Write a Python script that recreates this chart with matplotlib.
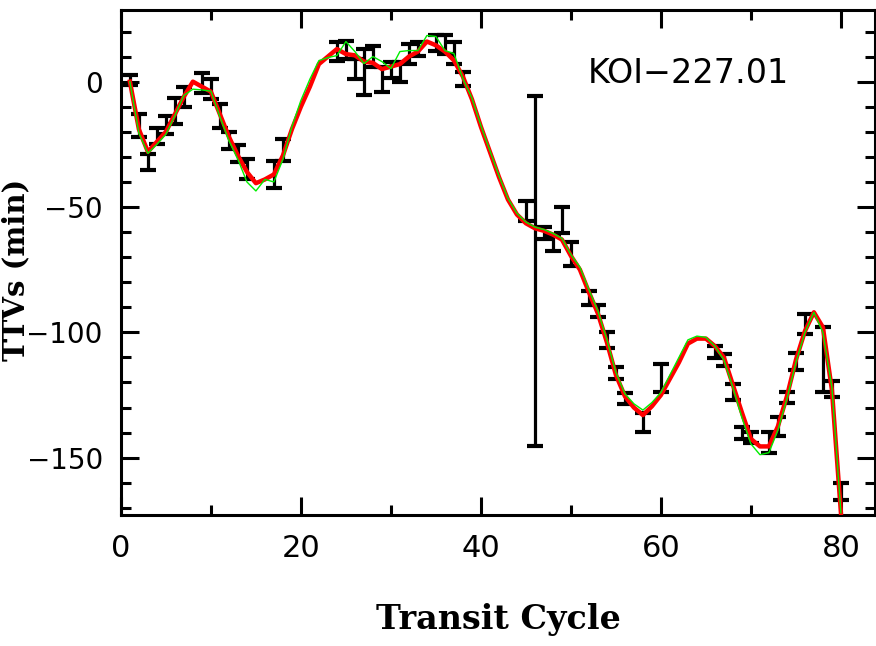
import numpy as np
from matplotlib import pyplot as plt
from matplotlib.ticker import MultipleLocator

# Observed transit timing variations (cycle, TTV in min, 1-sigma error)
obs_cycle = [1, 2, 3, 4, 5, 6, 7, 9, 10, 11, 12, 13, 14, 17, 18,
             24, 25, 26, 27, 28, 29, 30, 31, 32, 33, 35, 36, 37, 38,
             45, 46, 47, 48, 49, 50, 52, 53, 54, 55, 56, 58, 60,
             66, 67, 68, 69, 70, 72, 73, 74, 75, 76, 78, 79, 80]
obs_ttv = [0.5, -17.5, -32, -21.6, -17.2, -11.6, -6, -0.4, -2.8, -13.6, -23.4, -28.6, -34.8, -37, -27.3,
           12.2, 12.8, 5.2, 4, 10, 1, 4.8, 4, 11, 13.2, 15.6, 15, 11.6, 1.2,
           -51.6, -75.4, -60.4, -64.6, -55.2, -68.8, -86.4, -91.6, -103.2, -116.4, -126.2, -135.8, -118.2,
           -108, -111.2, -123.8, -140, -141.8, -143.8, -137.4, -125.8, -111.8, -96.8, -110.8, -122.6, -163.5]
obs_err = [2, 4.6, 3.2, 3.2, 3.6, 5.2, 4, 4, 4, 4.8, 3.4, 3.4, 4, 5.4, 4.3,
           3.8, 3.6, 4, 9.2, 4.2, 5, 3.2, 4, 4, 2.8, 3.2, 3.8, 4.4, 2.8,
           4, 69.8, 2.4, 3, 5.2, 4.8, 2.8, 2.4, 3.2, 2.4, 2.2, 3.8, 5.4,
           2.4, 2.4, 3, 2.4, 2.2, 4.2, 3.8, 2.2, 3.4, 4, 12.8, 3, 3.4]

# Model curves, one value per cycle 1..80
model_cycle = list(range(1, 81))
model_red = [0, -19, -28, -24, -20, -13, -6, 0, -2, -4,
             -13, -22, -29.5, -36, -40.5, -39, -37, -29.5, -19, -10,
             -2, 7, 10, 13, 11, 10.5, 8, 7.5, 5, 6,
             7, 10, 12, 16, 14.5, 12, 8.5, 2, -7, -18,
             -28, -38, -47, -53, -56.5, -58.5, -59.5, -61, -63, -69.5,
             -75, -84, -92.5, -104, -117, -125.5, -130, -133, -129.5, -125,
             -118.5, -112, -104.5, -102.5, -102.5, -105.5, -110, -121, -132, -142.5,
             -145.5, -145.5, -137.5, -125.5, -111, -99.5, -92, -98, -123, -172]
model_green = [0, -20.5, -28.6, -25, -21, -13.5, -5.5, -3, -3.3, -3.8,
               -14, -23.5, -31, -40, -43.6, -39, -40, -31, -18, -7.5,
               1, 8.4, 9.6, 10.4, 16, 12, 7.2, 10, 8, 5.2,
               12, 12.4, 12.4, 18.4, 18, 12.4, 11.2, 1.2, -6.5, -17.5,
               -27.5, -37.5, -46.5, -52.5, -56, -58, -59, -60.5, -62.5, -69,
               -74, -83, -91.5, -103, -116, -124.5, -128.5, -131, -128, -124,
               -117, -110, -103, -101.5, -102, -105.5, -111, -122, -134, -144.5,
               -148.8, -148, -139, -126.5, -112, -100, -92, -100, -122, -172]

fig = plt.figure(figsize=(8.76, 6.46), dpi=100)
ax = fig.add_axes([0.138, 0.203, 0.861, 0.782])

ax.errorbar(obs_cycle, obs_ttv, yerr=obs_err, fmt='none', ecolor='k',
            elinewidth=2.3, capsize=6, capthick=3, zorder=2)
ax.plot(model_cycle, model_red, color='red', lw=3.2, zorder=3)
ax.plot(model_cycle, model_green, color='#00ee00', lw=1.0, zorder=4)

ax.set_xlim(0, 83.8)
ax.set_ylim(-172.8, 28.7)

ax.xaxis.set_major_locator(MultipleLocator(20))
ax.xaxis.set_minor_locator(MultipleLocator(10))
ax.yaxis.set_major_locator(MultipleLocator(50))
ax.yaxis.set_minor_locator(MultipleLocator(10))
ax.tick_params(which='both', direction='in', top=True, right=True, width=2.2)
ax.tick_params(which='major', length=13)
ax.tick_params(which='minor', length=7)
ax.tick_params(axis='x', which='major', pad=14, labelsize=22)
ax.tick_params(axis='y', which='major', pad=13, labelsize=20)
ax.set_yticks([0, -50, -100, -150])
ax.set_yticklabels(['0', '\u221250', '\u2212100', '\u2212150'])
for s in ax.spines.values():
    s.set_linewidth(2.2)

ax.text(0.752, 0.873, 'KOI\u2212227.01', transform=ax.transAxes,
        fontsize=24, fontweight='medium', ha='center', va='center')

ax.set_xlabel('Transit Cycle', fontsize=24, family='DejaVu Serif',
              fontweight='bold')
ax.xaxis.set_label_coords(0.5, -0.175)
ax.set_ylabel('TTVs (min)', fontsize=21, family='DejaVu Serif',
              fontweight='bold')
ax.yaxis.set_label_coords(-0.12, 0.485)

fig.savefig('out.png', dpi=100)
